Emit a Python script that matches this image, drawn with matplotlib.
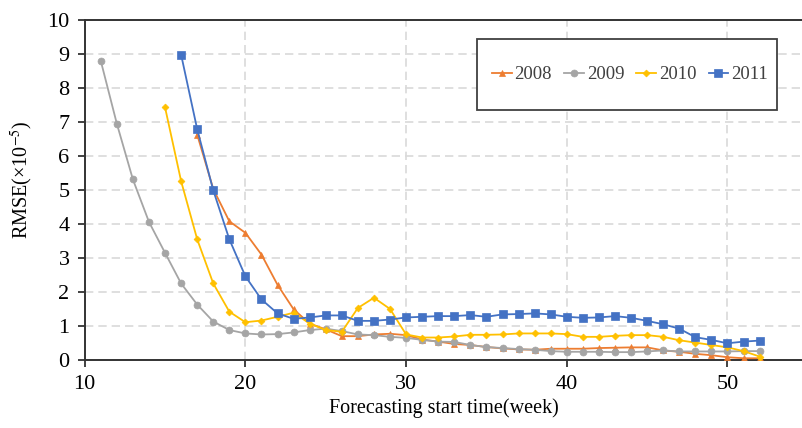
import matplotlib
matplotlib.use("Agg")
import matplotlib.pyplot as plt
from matplotlib.patches import Rectangle

weeks_2008 = list(range(17, 53))
rmse_2008 = [6.63, 5.03, 4.08, 3.74, 3.10, 2.21, 1.49, 1.07, 0.90, 0.70, 0.70, 0.75, 0.77,
             0.73, 0.60, 0.54, 0.47, 0.44, 0.38, 0.34, 0.31, 0.30, 0.33, 0.33, 0.33, 0.35,
             0.36, 0.37, 0.37, 0.28, 0.24, 0.18, 0.14, 0.08, 0.05, 0.05]

weeks_2009 = list(range(11, 53))
rmse_2009 = [8.80, 6.95, 5.31, 4.06, 3.15, 2.25, 1.63, 1.13, 0.88, 0.78, 0.75, 0.76, 0.81,
             0.88, 0.92, 0.85, 0.75, 0.73, 0.68, 0.65, 0.59, 0.54, 0.53, 0.44, 0.38, 0.35,
             0.32, 0.30, 0.26, 0.24, 0.24, 0.24, 0.23, 0.23, 0.25, 0.28, 0.25, 0.25, 0.25,
             0.25, 0.26, 0.26]

weeks_2010 = list(range(15, 53))
rmse_2010 = [7.43, 5.26, 3.55, 2.25, 1.42, 1.11, 1.16, 1.27, 1.39, 1.07, 0.88, 0.83, 1.53,
             1.83, 1.50, 0.75, 0.66, 0.66, 0.69, 0.74, 0.74, 0.75, 0.78, 0.78, 0.78, 0.76,
             0.68, 0.68, 0.71, 0.73, 0.73, 0.68, 0.58, 0.51, 0.44, 0.37, 0.26, 0.10]

weeks_2011 = list(range(16, 53))
rmse_2011 = [8.98, 6.79, 4.99, 3.55, 2.46, 1.78, 1.37, 1.21, 1.25, 1.31, 1.31, 1.15, 1.15,
             1.19, 1.25, 1.27, 1.29, 1.29, 1.32, 1.27, 1.34, 1.35, 1.37, 1.34, 1.27, 1.24,
             1.25, 1.29, 1.24, 1.15, 1.05, 0.92, 0.67, 0.59, 0.49, 0.54, 0.57]

x_ticks = [10, 20, 30, 40, 50]
y_ticks = list(range(0, 11))

plt.rcParams['font.family'] = ['Liberation Serif', 'DejaVu Serif']
plt.rcParams['mathtext.fontset'] = 'stix'

fig = plt.figure(figsize=(8.03, 4.28), dpi=100)
ax = fig.add_axes([0.1055, 0.159, 0.8945, 0.794])

series = [
    ("2008", weeks_2008, rmse_2008, "#ED7D31", "^", 5),
    ("2009", weeks_2009, rmse_2009, "#A5A5A5", "o", 5),
    ("2010", weeks_2010, rmse_2010, "#FFC000", "D", 3.5),
    ("2011", weeks_2011, rmse_2011, "#4472C4", "s", 5.5),
]
for label, x, y, c, m, ms in series:
    ax.plot(x, y, color=c, marker=m, markersize=ms, linewidth=1.3, label=label,
            markeredgewidth=0.5, zorder=3)

ax.set_xlim(10, 54.7)
ax.set_ylim(0, 10)
ax.set_xticks(x_ticks)
ax.set_yticks(y_ticks)
ax.tick_params(axis='both', labelsize=16, direction='out', length=5, width=1.3,
               color='#333333', pad=6)
ax.grid(True, color='#d9d9d9', linestyle=(0, (5, 3)), linewidth=1.2, zorder=0)
ax.set_axisbelow(True)
for s in ['left', 'bottom', 'top']:
    ax.spines[s].set_color('#333333')
    ax.spines[s].set_linewidth(1.4)
ax.spines['right'].set_visible(False)

ax.set_xlabel("Forecasting start time(week)", fontsize=14.5, labelpad=3)
ax.set_ylabel(r"RMSE(×10$^{-5}$)", fontsize=14.5, labelpad=6)
ax.yaxis.set_label_coords(-0.069, 0.53)

# legend frame drawn as a separate rectangle (axes coords)
frame = Rectangle((0.546, 0.735), 0.418, 0.209, transform=ax.transAxes, fill=True,
                  facecolor='white', edgecolor='#404040', linewidth=1.3, zorder=4)
ax.add_patch(frame)
leg = ax.legend(loc='center', bbox_to_anchor=(0.759, 0.8395), ncol=4, fontsize=13.5,
                frameon=False, handlelength=1.05, handletextpad=0.15, columnspacing=0.65,
                labelcolor='#404040', borderpad=0.2)
leg.set_zorder(5)

fig.savefig("out.png", dpi=100)
